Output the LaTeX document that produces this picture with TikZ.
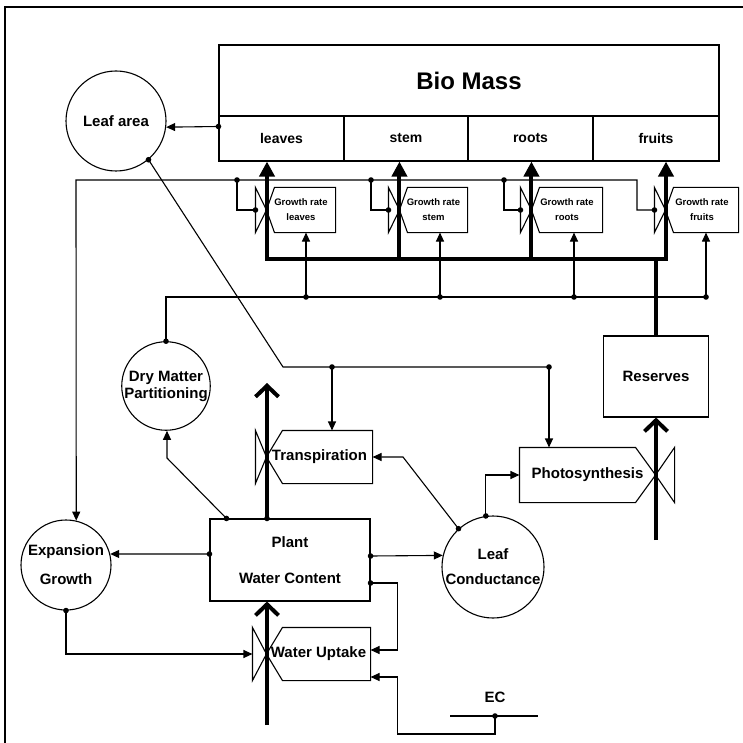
\documentclass[tikz,border=0pt]{standalone}
\usepackage{fontspec}
\setmainfont{Liberation Sans}
\usetikzlibrary{arrows.meta}

\begin{document}
\begin{tikzpicture}[x=1pt, y=-1pt, line width=1.1pt,
    lab/.style={font=\bfseries\fontsize{15}{17}\selectfont, align=center},
    small/.style={font=\bfseries\fontsize{9.5}{15}\selectfont, align=center},
    circ/.style={draw, circle, inner sep=0pt, lab},
    box/.style={draw, rectangle, inner sep=0pt, lab},
    cell/.style={box, minimum height=45pt, font=\bfseries\fontsize{14}{16}\selectfont},
    rate/.style={rectangle, inner sep=0pt, minimum height=44pt, small},
    flowbox/.style={rectangle, inner sep=0pt, minimum height=52pt, lab},
    arr/.style={-{Triangle[length=9pt,width=8pt]}},
    flow/.style={line width=4pt},
    flowup/.style={flow, -{Triangle[length=15pt,width=15pt]}},
    flowin/.style={flow, -{Straight Barb[length=11pt,width=23pt]}}
  ]
  \useasboundingbox (0,0) rectangle (743,743);
  % Frame
  \draw[line width=2pt] (5,743) -- (5,7) -- (743,7);

  % Bio mass
  \node[box, minimum width=500pt, minimum height=71pt,
        font=\bfseries\fontsize{24}{28}\selectfont] (bio) at (469,80.5) {Bio Mass};
  \node[cell, minimum width=125pt] (leaves) at (281.5,138.5) {leaves};
  \node[cell, minimum width=124pt] (stem)   at (406,138.5)   {stem};
  \node[cell, minimum width=125pt] (roots)  at (530.5,138.5) {roots};
  \node[cell, minimum width=126pt] (fruits) at (656,138.5)   {fruits};

  % States and auxiliaries
  \node[circ, minimum size=100pt] (leafarea) at (116,121) {Leaf area};
  \node[circ, minimum size=88pt]  (dmp)   at (166,386) {Dry Matter\\Partitioning};
  \node[circ, minimum size=90pt]  (expan) at (66,565)  {Expansion\\[12pt]Growth};
  \node[circ, minimum size=102pt] (lc)    at (493,567) {Leaf\\[8pt]Conductance};
  \node[box, minimum width=160pt, minimum height=82pt] (pwc) at (290,560)
        {Plant\\[19pt]Water Content};
  \node[box, minimum width=105pt, minimum height=81pt] (res) at (656,376.5) {Reserves};
  \node[lab] (ec) at (495,697) {EC};

  % Rates
  \node[flowbox, minimum width=105pt] (trans) at (319.5,457) {Transpiration};
  \node[flowbox, minimum width=103pt] (wu)    at (318.5,654) {Water Uptake};
  \node[flowbox, minimum width=135pt, minimum height=54pt] (photo) at (587.5,475)
        {Photosynthesis};
  \node[rate, minimum width=68pt] (gl) at (301,210)   {Growth rate\\leaves};
  \node[rate, minimum width=67pt] (gs) at (433.5,210) {Growth rate\\stem};
  \node[rate, minimum width=70pt] (gr) at (567,210)   {Growth rate\\roots};
  \node[rate, minimum width=72pt] (gf) at (702,210)   {Growth rate\\fruits};

  % Rate outlines and valves
  \draw (trans.north east) -- (trans.south east) -- ([xshift=16pt]trans.south west)
        -- (trans.west) -- ([xshift=16pt]trans.north west) -- cycle;
  \draw (trans.west) -- ([xshift=-11pt]trans.north west) -- ([xshift=-11pt]trans.south west) -- cycle;
  \draw (wu.north east) -- (wu.south east) -- ([xshift=16pt]wu.south west)
        -- (wu.west) -- ([xshift=16pt]wu.north west) -- cycle;
  \draw (wu.west) -- ([xshift=-14pt]wu.north west) -- ([xshift=-14pt]wu.south west) -- cycle;
  \draw (photo.north west) -- ([xshift=-20pt]photo.north east) -- (photo.east)
        -- ([xshift=-20pt]photo.south east) -- (photo.south west) -- cycle;
  \draw (photo.east) -- ([xshift=19pt]photo.north east) -- ([xshift=19pt]photo.south east) -- cycle;
  \draw (gl.north east) -- (gl.south east) -- ([xshift=8pt]gl.south west)
        -- (gl.west) -- ([xshift=8pt]gl.north west) -- cycle;
  \draw (gl.west) -- ([xshift=-11pt]gl.north west) -- ([xshift=-11pt]gl.south west) -- cycle;
  \draw (gs.north east) -- (gs.south east) -- ([xshift=8pt]gs.south west)
        -- (gs.west) -- ([xshift=8pt]gs.north west) -- cycle;
  \draw (gs.west) -- ([xshift=-11pt]gs.north west) -- ([xshift=-11pt]gs.south west) -- cycle;
  \draw (gr.north east) -- (gr.south east) -- ([xshift=8pt]gr.south west)
        -- (gr.west) -- ([xshift=8pt]gr.north west) -- cycle;
  \draw (gr.west) -- ([xshift=-11pt]gr.north west) -- ([xshift=-11pt]gr.south west) -- cycle;
  \draw (gf.north east) -- (gf.south east) -- ([xshift=8pt]gf.south west)
        -- (gf.west) -- ([xshift=8pt]gf.north west) -- cycle;
  \draw (gf.west) -- ([xshift=-11pt]gf.north west) -- ([xshift=-11pt]gf.south west) -- cycle;

  % Material flows
  \coordinate (hubl) at (267,259);
  \coordinate (hubr) at (666,259);
  \draw[flow, line cap=rect] (hubl) -- (hubr);
  \draw[flow] (res.north) -- (res.north |- hubr);
  \draw[flowup] (hubl) -- (hubl |- leaves.south);
  \draw[flowup] (gs.west |- hubl) -- (gs.west |- stem.south);
  \draw[flowup] (gr.west |- hubl) -- (gr.west |- roots.south);
  \draw[flowup] (hubr) -- (hubr |- fruits.south);
  \coordinate (resin) at (656,540);
  \draw[flowin] (resin) -- (res.south);
  \coordinate (wtin) at (267,725);
  \coordinate (wtout) at (267,383);
  \coordinate (wtop) at (wtin |- pwc.north);
  \draw[flowin] (wtin) -- (wtin |- pwc.south);
  \draw[flowin] (wtop) -- (wtout);

  % Leaf area links
  \coordinate (lb) at ([yshift=12pt]leaves.west);
  \draw[arr] (lb) -- (leafarea.-7);
  \coordinate (lad) at (leafarea.-50);
  \coordinate (kink) at (283,367);
  \coordinate (jt) at (332,367);
  \coordinate (jp) at (549,367);
  \draw (lad) -- (kink) -- (jp);
  \draw[arr] (jt) -- (jt |- trans.north);
  \draw[arr] (jp) -- (jp |- photo.north);

  % Growth rates to expansion growth
  \coordinate (vl) at ([xshift=-11pt]gl.west);
  \coordinate (vs) at ([xshift=-11pt]gs.west);
  \coordinate (vr) at ([xshift=-11pt]gr.west);
  \coordinate (vf) at ([xshift=-11pt]gf.west);
  \coordinate (jl) at (237,180);
  \coordinate (js) at (371,180);
  \coordinate (jr) at (504,180);
  \coordinate (jf) at (637,180);
  \coordinate (tl) at (76,180);
  \draw[arr] (vf) -| (jf) -- (tl) -- (expan.77);
  \draw (jl) |- (vl);
  \draw (js) |- (vs);
  \draw (jr) |- (vr);

  % Dry matter partitioning
  \coordinate (d1) at (306,297);
  \coordinate (d2) at (440,297);
  \coordinate (d3) at (574,297);
  \coordinate (d4) at (706,297);
  \draw (dmp.north) |- (d4);
  \draw[arr] (d1) -- (d1 |- gl.south);
  \draw[arr] (d2) -- (d2 |- gs.south);
  \draw[arr] (d3) -- (d3 |- gr.south);
  \draw[arr] (d4) -- (d4 |- gf.south);

  % Plant water content
  \coordinate (p1) at ([xshift=17pt]pwc.north west);
  \coordinate (pk) at (167,458);
  \draw[arr] (p1) -- (pk) -- (pk |- dmp.south);
  \coordinate (p2) at ([yshift=6pt]pwc.west);
  \draw[arr] (p2) -- (expan.14);
  \coordinate (p3) at ([yshift=4pt]pwc.east);
  \draw[arr] (p3) -- (lc.167);
  \coordinate (p4) at ([yshift=-23pt]pwc.east);
  \draw[arr] (p4) -- ++(27,0) |- ([yshift=4pt]wu.east);
  \draw[arr] (expan.south) |- ([xshift=-14pt]wu.west);

  % Leaf conductance
  \coordinate (lk) at (403,457);
  \draw[arr] (lc.132) -- (lk) -- (trans.east);
  \draw[arr] (lc.98) |- (photo.west);

  % EC
  \coordinate (ecd) at (495,716);
  \draw ([xshift=-45pt]ecd) -- ([xshift=43pt]ecd);
  \draw[arr] (ecd) -- ++(0,18) -| ([xshift=27pt,yshift=-23pt]wu.east) -- ([yshift=-23pt]wu.east);

  % Dots
  \foreach \p in {lb, lad, jt, jp, jl, js, jr, vl, vs, vr, vf, dmp.north, d1, d2, d3, d4,
                  p1, p2, p3, p4, wtop, expan.south, lc.132, lc.98, ecd}
    \fill (\p) circle (2.8);
\end{tikzpicture}
\end{document}
